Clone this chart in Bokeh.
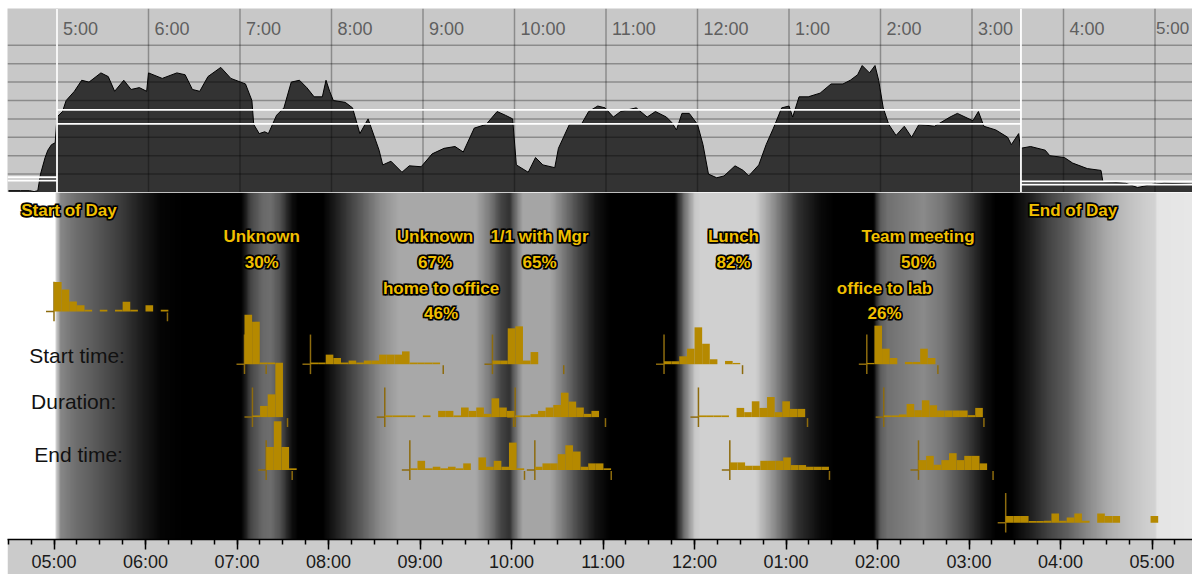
import numpy as np
from bokeh.plotting import figure
from bokeh.layouts import column, row
from bokeh.models import Range1d, FixedTicker, LinearColorMapper, Spacer
from bokeh.core.properties import value
from bokeh.embed import file_html
from bokeh.resources import INLINE

# ---------------- data ----------------
hour_ticks = list(range(5, 18))
top_tick_labels = ["5:00", "6:00", "7:00", "8:00", "9:00", "10:00", "11:00",
                   "12:00", "1:00", "2:00", "3:00", "4:00", "5:00"]
axis_tick_labels = ["05:00", "06:00", "07:00", "08:00", "09:00", "10:00", "11:00",
                    "12:00", "01:00", "02:00", "03:00", "04:00", "05:00"]

# activity level over the day (top panel, 0..10 scale)
activity_hours = [
    4.47, 4.60, 4.70, 4.75, 4.79, 4.82, 4.87, 4.90, 4.94, 4.98,
    5.00, 5.06, 5.10, 5.19, 5.27, 5.35, 5.48, 5.56, 5.63, 5.73,
    5.81, 5.90, 5.98, 6.00, 6.15, 6.31, 6.40, 6.48, 6.56, 6.65,
    6.79, 6.90, 7.06, 7.13, 7.15, 7.21, 7.27, 7.31, 7.40, 7.48,
    7.56, 7.65, 7.73, 7.81, 7.90, 7.94, 7.98, 8.02, 8.15, 8.23,
    8.31, 8.40, 8.52, 8.56, 8.65, 8.77, 8.85, 8.98, 9.10, 9.23,
    9.35, 9.44, 9.56, 9.69, 9.81, 9.90, 9.98, 10.02, 10.15, 10.23,
    10.31, 10.44, 10.48, 10.60, 10.73, 10.81, 10.91, 10.99, 11.08, 11.16,
    11.33, 11.45, 11.54, 11.66, 11.72, 11.77, 11.83, 11.91, 12.00, 12.06,
    12.12, 12.21, 12.29, 12.41, 12.50, 12.56, 12.67, 12.75, 12.83, 12.92,
    13.00, 13.04, 13.11, 13.21, 13.34, 13.46, 13.59, 13.67, 13.75, 13.80,
    13.88, 13.94, 13.98, 14.03, 14.09, 14.17, 14.26, 14.34, 14.42, 14.59,
    14.76, 14.84, 15.01, 15.07, 15.13, 15.26, 15.39, 15.43, 15.51, 15.53,
    15.64, 15.80, 15.85, 16.01, 16.10, 16.26, 16.41, 16.43, 16.68, 16.81,
    16.98, 17.10, 17.50]
activity_level = [
    0.1, 0.1, 0.1, 0.05, 0.1, 1.0, 1.9, 2.3, 2.6, 2.7,
    4.1, 4.4, 5.0, 5.5, 6.1, 6.0, 6.5, 6.3, 5.5, 6.1,
    5.6, 5.7, 5.5, 6.5, 6.2, 6.5, 6.4, 5.6, 5.5, 6.3,
    6.8, 6.2, 5.9, 5.0, 3.7, 3.2, 3.3, 3.2, 4.2, 4.6,
    6.0, 6.1, 5.7, 5.2, 5.2, 6.1, 5.5, 5.0, 4.9, 4.6,
    3.2, 4.0, 2.3, 1.5, 1.7, 1.1, 1.45, 1.4, 2.1, 2.4,
    2.5, 2.2, 3.5, 3.7, 4.4, 4.2, 4.0, 1.5, 1.1, 1.9,
    1.5, 1.35, 2.4, 3.7, 3.7, 4.4, 4.7, 4.6, 4.1, 4.4,
    4.6, 4.1, 4.4, 4.1, 3.8, 3.4, 4.3, 4.3, 3.7, 2.6,
    1.0, 0.8, 0.9, 1.45, 1.2, 0.9, 1.5, 2.6, 3.5, 4.6,
    4.7, 4.1, 5.2, 5.2, 5.4, 5.9, 5.9, 6.1, 6.4, 6.9,
    6.5, 6.9, 6.1, 4.6, 3.7, 3.1, 3.6, 3.0, 3.7, 3.6,
    4.1, 4.3, 3.9, 4.4, 3.6, 3.4, 3.0, 2.6, 3.2, 2.4,
    2.5, 2.3, 2.0, 1.9, 1.6, 1.3, 1.2, 0.6, 0.5, 0.27,
    0.45, 0.5, 0.45]

day_start = 5.0
day_end = 15.535
band_before = [0.65, 0.83]
band_day = [3.73, 4.49]
band_after = [0.43, 0.60]

# background shading (gray level 0..255 at given hours)
shade_hours = [
    4.40, 5.011, 5.022, 5.071, 5.235, 5.399, 5.727, 5.945, 6.164, 6.437,
    7.049, 7.148, 7.279, 7.366, 7.475, 7.596, 7.672, 7.934, 8.077, 8.35,
    8.568, 8.765, 9.607, 9.77, 9.88, 9.978, 10.044, 10.12, 10.426, 10.699,
    10.918, 11.082, 11.781, 11.9, 12.01, 12.066, 12.667, 12.874, 13.126, 13.377,
    13.54, 13.956, 14.03, 14.109, 14.306, 14.503, 14.71, 14.962, 15.169, 15.3,
    15.464, 15.672, 15.88, 16.087, 16.295, 16.514, 16.721, 16.929, 17.038, 17.06, 17.60]
shade_gray = [
    255, 255, 200, 135, 110, 95, 60, 30, 5, 0,
    0, 70, 105, 110, 80, 15, 0, 0, 30, 90,
    140, 168, 168, 120, 70, 50, 110, 165, 165, 80,
    20, 0, 0, 120, 200, 208, 208, 140, 50, 10,
    0, 0, 90, 112, 125, 138, 118, 68, 17, 0,
    0, 30, 68, 96, 136, 170, 190, 205, 210, 228, 232]

# histograms (5-minute bins)
hist_rows = ["sod",
             "start", "duration", "end",
             "start", "duration", "end",
             "start", "duration", "end",
             "start", "duration", "end",
             "start", "duration", "end",
             "eod"]
hist_origin = [5.0,
               7.082, 7.169, 7.319,
               7.803, 8.615, 8.889,
               9.792, 10.040, 10.255,
               11.667, 12.043, 12.386,
               13.883, 14.068, 14.448,
               15.401]
hist_end = [6.240,
            7.319, 7.552, 7.603,
            9.254, 10.022, 10.142,
            10.571, 11.027, 11.090,
            12.525, 13.235, 13.475,
            14.660, 15.163, 15.263,
            None]
hist_bins = [
    [29.7, 22.3, 10, 6.3, 1.7, 0, 1.7, 0, 1.7, 9.7, 1.7, 0, 6.3, 0, 1.7],
    [50, 43, 1.7, 1.7],
    [1.7, 11.3, 23, 55],
    [23.3, 49.3, 23.3, 1.7],
    [1.7, 1.7, 9.7, 6.3, 1.7, 3.7, 1.7, 3.7, 3.7, 9.7, 9.7, 9.7, 13, 1.7, 1.7, 1.7, 1.7],
    [1.7, 1.7, 1.7, 1.7, 0, 1.7, 0, 6.3, 6.3, 1.7, 9.7, 6.3, 9.7, 3.3, 19, 9.7, 6.3],
    [1.7, 9.3, 1.7, 3.3, 1.7, 3.3, 1.7, 6.7, 0, 12.7, 3.3, 9.3, 3.3, 27.7, 1.7],
    [3.7, 3.7, 36.3, 38.3, 3.7, 12.3],
    [1.7, 1.7, 3, 6.3, 9.7, 12.3, 24.7, 15.7, 9.7, 3.3, 6.3],
    [3.3, 6.7, 6.7, 16, 25, 18.7, 3.3, 6.7, 6.7, 1.7],
    [3, 3, 8, 15.7, 37.3, 20.7, 5, 0, 3.3, 1.3],
    [1.7, 1.7, 1.7, 1.7, 0, 9.3, 5, 16, 9.3, 20.3, 5, 16, 8.3, 8.3],
    [7.7, 7.7, 4.3, 4.3, 9.3, 9.3, 9.3, 12.7, 5, 5, 3.3, 3.3, 3.3],
    [1.3, 39, 15.7, 6.3, 0, 2.3, 2.3, 15.7, 6.3],
    [1.7, 1.7, 2.7, 13.3, 7, 17, 12, 6.7, 6.7, 6.7, 6.7, 2, 9.3],
    [10, 14.3, 5.3, 10, 17, 10, 14.3, 14.3, 6.7],
    [6.7, 6.7, 6.7, 1.7, 1.7, 2, 9.3, 2, 5.3, 9.3, 2, 0, 9.3, 6.7, 6.7, 0, 0, 0, 0, 6.7],
]
BIN_HOURS = 5 / 60

activity_names = ["Unknown", "Unknown", "1/1 with Mgr", "Lunch", "Team meeting"]
activity_pcts = ["30%", "67%", "65%", "82%", "50%"]
activity_hour = [7.27, 9.164, 10.306, 12.426, 14.443]
trip_names = ["home to office", "office to lab"]
trip_pcts = ["46%", "26%"]
trip_hour = [9.230, 14.077]
row_names = ["Start time:", "Duration:", "End time:"]

# ---------------- layout constants ----------------
LEFT_PAD, TOP_PAD = 7, 8
W = 1192 - LEFT_PAD
PX_PER_HOUR = 91.5
X0 = 5 - (53.5 - LEFT_PAD) / PX_PER_HOUR
X1 = X0 + W / PX_PER_HOUR
TOP_SHIFT = 3.0 / PX_PER_HOUR
MID_H = 351
AXIS_H = 31
row_y = {"sod": 120.3, "start": 173.7, "duration": 227.2, "end": 280.7, "eod": 334.0}
ARM = 8 / PX_PER_HOUR

GOLD = "#b58900"
GOLD_LINE = "#8d6b0e"
LABEL_GOLD = "#f0bf00"
FONT = value("Liberation Sans")

# ---------------- top panel ----------------
tx0, tx1 = X0 - TOP_SHIFT, X1 - TOP_SHIFT
top = figure(width=W, height=184, x_range=Range1d(tx0, tx1), y_range=Range1d(0, 10),
             x_axis_location=None, y_axis_location=None, toolbar_location=None,
             output_backend="svg", min_border=0, background_fill_color="#c8c8c8",
             outline_line_color=None)
top.grid.visible = False

top.varea(x=activity_hours, y1=0, y2=activity_level, fill_color="#333333")
top.line(x=activity_hours, y=activity_level, line_color="black", line_width=1)

levels = list(range(1, 9))
top.segment(x0=hour_ticks, y0=0, x1=hour_ticks, y1=10, line_color="black",
            line_alpha=0.3, line_width=1.5)
top.segment(x0=[tx0] * len(levels), y0=levels, x1=[tx1] * len(levels), y1=levels,
            line_color="black", line_alpha=0.3, line_width=1.5)

wx0 = [tx0, tx0, day_start, day_start, day_end, day_end]
wx1 = [day_start, day_start, day_end, day_end, tx1, tx1]
wy = band_before + band_day + band_after
top.segment(x0=wx0, y0=wy, x1=wx1, y1=wy, line_color="white", line_width=1.8)
top.segment(x0=[day_start, day_end], y0=0, x1=[day_start, day_end], y1=10,
            line_color="white", line_width=1.8)

top_label_style = dict(text_align="left", text_baseline="middle", text_font=FONT,
                       text_font_size="18px", text_color="#5f5f5f")
top.text(x=hour_ticks[:-1], y=8.9, text=top_tick_labels[:-1], x_offset=6, **top_label_style)
top.text(x=hour_ticks[-1:], y=8.9, text=top_tick_labels[-1:], x_offset=1,
         **dict(top_label_style, text_font_size="17px"))

# ---------------- middle panel ----------------
mid = figure(width=W, height=MID_H + AXIS_H, x_range=Range1d(X0, X1),
             y_range=Range1d(MID_H, 0),
             y_axis_location=None, toolbar_location=None, output_backend="svg",
             min_border=0, min_border_bottom=AXIS_H, outline_line_color=None,
             border_fill_color="#cbcbcb", background_fill_color="white")
mid.grid.visible = False

ncol = 1400
xs = np.linspace(X0, X1, ncol)
gray = np.interp(xs, shade_hours, shade_gray)
grays = ["#%02x%02x%02x" % (i, i, i) for i in range(256)]
mid.image(image=[gray[np.newaxis, :]], x=X0, y=0, dw=X1 - X0, dh=MID_H,
          color_mapper=LinearColorMapper(palette=grays, low=0, high=255))

# histogram guides and bars
vx, vy0, vy1 = [], [], []
hx0, hx1, hy = [], [], []
ex, ey0, ey1 = [], [], []
bl, br, bt, bb = [], [], [], []
for rname, org, end, bins in zip(hist_rows, hist_origin, hist_end, hist_bins):
    base = row_y[rname]
    vx.append(org); vy0.append(base - 30); vy1.append(base + 10)
    hx0.append(org - ARM); hx1.append(org); hy.append(base)
    if end is not None:
        ex.append(end); ey0.append(base + 1); ey1.append(base + 10)
    for i, h in enumerate(bins):
        if h > 0:
            bl.append(org + i * BIN_HOURS)
            br.append(org + (i + 1) * BIN_HOURS)
            bt.append(base - h)
            bb.append(base)

mid.segment(x0=vx, y0=vy0, x1=vx, y1=vy1, line_color=GOLD_LINE, line_width=1.5)
mid.segment(x0=hx0, y0=hy, x1=hx1, y1=hy, line_color=GOLD_LINE, line_width=1.5)
mid.segment(x0=ex, y0=ey0, x1=ex, y1=ey1, line_color=GOLD_LINE, line_width=1.5)
mid.quad(left=bl, right=br, top=bt, bottom=bb, fill_color=GOLD, line_color=None)


# gold labels with a black halo: dark outlined copies below, gold fill on top
def gold_label(x, y, txt, align):
    common = dict(text_font=FONT, text_font_size="17px", text_font_style="bold",
                  text_baseline="middle", text_align=align)
    for dx, dy in [(-1, -1), (1, -1), (-1, 1), (1, 1)]:
        mid.text(x=x, y=y, text=txt, x_offset=dx, y_offset=dy, text_color="black",
                 text_outline_color="black", **common)
    mid.text(x=x, y=y, text=txt, text_color=LABEL_GOLD, **common)


gold_label([5 + (20.7 - 53.5) / PX_PER_HOUR], [18], ["Start of Day"], "left")
gold_label([16.135], [18.7], ["End of Day"], "center")
gold_label(activity_hour, [45] * 5, activity_names, "center")
gold_label(activity_hour, [71] * 5, activity_pcts, "center")
gold_label(trip_hour, [97] * 2, trip_names, "center")
gold_label(trip_hour, [122.5] * 2, trip_pcts, "center")

# row labels
row_label_x = [5 + (28.7 - 53.5) / PX_PER_HOUR, 5 + (30.6 - 53.5) / PX_PER_HOUR,
               5 + (33.7 - 53.5) / PX_PER_HOUR]
mid.text(x=row_label_x, y=[164.7, 211.3, 265.3], text=row_names, text_align="left",
         text_baseline="middle", text_font=FONT, text_font_size="21px",
         text_color="#111111")

# bottom axis
ax = mid.xaxis[0]
minor = [4.5 + 0.25 * k for k in range(53)]
ax.ticker = FixedTicker(ticks=hour_ticks, minor_ticks=minor)
ax.major_label_overrides = {h: lab for h, lab in zip(hour_ticks, axis_tick_labels)}
ax.axis_line_color = "black"
ax.axis_line_width = 1.5
ax.major_tick_in = 0
ax.major_tick_out = 10
ax.minor_tick_in = 0
ax.minor_tick_out = 5
ax.major_tick_line_width = 1.5
ax.minor_tick_line_width = 1.5
ax.major_tick_line_color = "black"
ax.minor_tick_line_color = "black"
ax.major_label_standoff = 2
ax.major_label_text_font = "Liberation Sans"
ax.major_label_text_font_size = "18px"
ax.major_label_text_color = "#1a1a1a"

layout = column(
    Spacer(width=1192, height=TOP_PAD),
    row(Spacer(width=LEFT_PAD, height=184 + MID_H + AXIS_H), column(top, mid, spacing=0),
        spacing=0),
    spacing=0)
open("out.html", "w").write(file_html(layout, INLINE))
